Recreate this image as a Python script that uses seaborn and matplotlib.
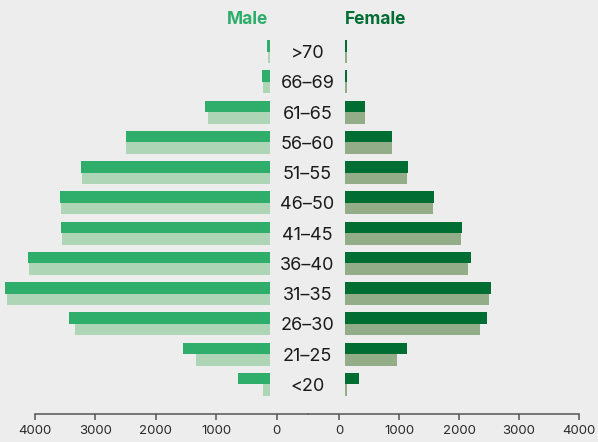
import matplotlib
matplotlib.use("Agg")
import matplotlib.pyplot as plt
from matplotlib.transforms import blended_transform_factory
import pandas as pd
import seaborn as sns

# Age groups, oldest at the top
ages = [">70", "66–69", "61–65", "56–60", "51–55", "46–50",
        "41–45", "36–40", "31–35", "26–30", "21–25", "<20"]

# Headcounts per age group: current (upper bar) and previous (lower bar)
male_current = [160, 240, 1190, 2500, 3240, 3590, 3570, 4120, 4500, 3440, 1550, 640]
male_previous = [140, 230, 1140, 2500, 3220, 3570, 3550, 4100, 4460, 3340, 1340, 230]
female_current = [130, 130, 430, 880, 1150, 1580, 2050, 2200, 2530, 2470, 1130, 330]
female_previous = [130, 130, 430, 880, 1130, 1570, 2030, 2150, 2500, 2350, 970, 130]

ticks = [0, 1000, 2000, 3000, 4000]

BG = "#ededed"
MALE_DARK, MALE_LIGHT = "#2ead6b", "#aed6b6"
FEMALE_DARK, FEMALE_LIGHT = "#006d33", "#93ad89"
AXIS_GREY = "#555555"
TEXT = "#1a1a1a"

sns.set_style("white", {"axes.facecolor": BG, "figure.facecolor": BG})
plt.rcParams["font.family"] = ["Inter", "DejaVu Sans"]


def tidy(values_a, values_b):
    return pd.DataFrame({
        "age": ages * 2,
        "count": values_a + values_b,
        "period": ["current"] * len(ages) + ["previous"] * len(ages),
    })


male = tidy(male_current, male_previous)
female = tidy(female_current, female_previous)

W, H = 598, 442
fig = plt.figure(figsize=(W / 100, H / 100), dpi=100)

top_px, bottom_px = 36.4, 414.0
ax_bottom = 1 - bottom_px / H
ax_height = (bottom_px - top_px) / H
ylim = (11.976, -0.5)

# Male panel reaches the left edge so the longest bars run past 4000
axL = fig.add_axes([0, ax_bottom, 308 / W, ax_height])
axR = fig.add_axes([308 / W, ax_bottom, (598 - 308) / W, ax_height])

sns.barplot(data=male, y="age", x="count", hue="period", order=ages,
            hue_order=["current", "previous"], orient="h", width=0.76,
            palette={"current": MALE_DARK, "previous": MALE_LIGHT},
            errorbar=None, legend=False, saturation=1, ax=axL)
sns.barplot(data=female, y="age", x="count", hue="period", order=ages,
            hue_order=["current", "previous"], orient="h", width=0.76,
            palette={"current": FEMALE_DARK, "previous": FEMALE_LIGHT},
            errorbar=None, legend=False, saturation=1, ax=axR)

male_scale = (276.7 - 35) / 4000
female_scale = (579 - 339) / 4000
axL.set_xlim(276.7 / male_scale, -(308 - 276.7) / male_scale)
axR.set_xlim(-(339 - 308) / female_scale, (598 - 339) / female_scale)
axL.spines["bottom"].set_bounds(axL.get_xlim()[1], 4000)
axR.spines["bottom"].set_bounds(axR.get_xlim()[0], 4000)

for ax in (axL, axR):
    for p in ax.patches:
        p.set_linewidth(0)
    ax.set_ylim(*ylim)
    ax.set_xlabel("")
    ax.set_ylabel("")
    ax.set_yticks([])
    ax.set_xticks(ticks)
    ax.set_xticklabels([str(t) for t in ticks])
    for side in ("left", "top", "right"):
        ax.spines[side].set_visible(False)
    ax.spines["bottom"].set_color(AXIS_GREY)
    ax.spines["bottom"].set_linewidth(1.1)
    ax.tick_params(axis="x", bottom=True, direction="out", length=4, width=1.1,
                   color=AXIS_GREY, labelsize=9.5, labelcolor="#2a2a2a", pad=4)

# Centre column carrying the age labels, laid over the bar roots
mid_top, mid_bottom = top_px, 400.0
ov = fig.add_axes([270 / W, 1 - mid_bottom / H, 75 / W, (mid_bottom - mid_top) / H])
ov.set_facecolor(BG)
ov.set_xticks([])
ov.set_yticks([])
for s in ov.spines.values():
    s.set_visible(False)
ov.set_zorder(5)

trans = blended_transform_factory(ov.transAxes, axL.transData)
for i, label in enumerate(ages):
    ov.text(0.5, i, label, transform=trans, ha="center", va="center_baseline",
            fontsize=13, color=TEXT, clip_on=False)

fig.text(268 / W, 1 - 19 / H, "Male", ha="right", va="center",
         fontsize=12.5, fontweight="bold", color=MALE_DARK)
fig.text(345 / W, 1 - 19 / H, "Female", ha="left", va="center",
         fontsize=12.5, fontweight="bold", color=FEMALE_DARK)

fig.savefig("out.png", dpi=100, facecolor=BG)
